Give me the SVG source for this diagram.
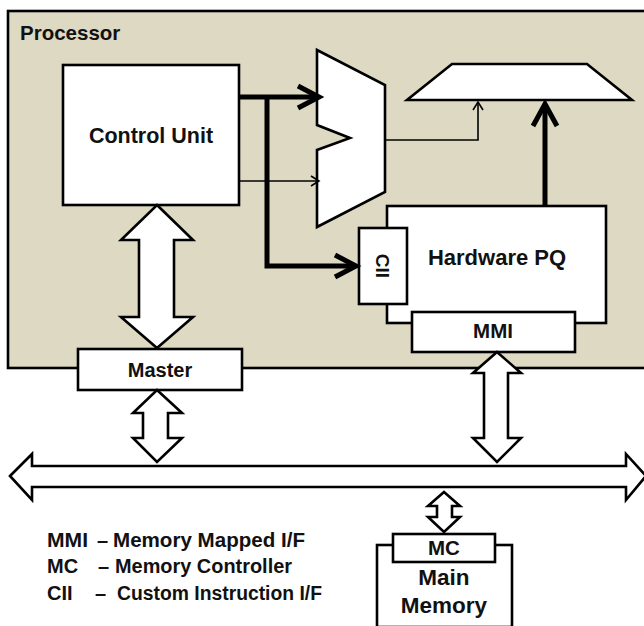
<svg xmlns="http://www.w3.org/2000/svg" width="644" height="626" viewBox="0 0 644 626">
<style>
.box{fill:#fff;stroke:#000;stroke-width:2.6}
.blk{fill:#fff;stroke:#000;stroke-width:2.6;stroke-linejoin:miter}
.thick{fill:none;stroke:#000;stroke-width:5}
.thin{fill:none;stroke:#000;stroke-width:1.6}
.t{font-family:"Liberation Sans",Arial,sans-serif;font-weight:bold;fill:#111}
</style>
<rect width="644" height="626" fill="#fff"/>
<g id="processor">
<rect x="8" y="11" width="642" height="357" fill="#DDD9C3" stroke="#000" stroke-width="2.6"/>
<text class="t" x="20" y="40" font-size="20.5">Processor</text>
</g>
<g id="control-unit">
<rect class="box" x="63" y="65" width="176" height="140"/>
<text class="t" x="151" y="143" font-size="21.5" text-anchor="middle">Control Unit</text>
</g>
<g id="mux">
<path class="box" d="M317,50 L385,85 L385,192 L317,227 L317,150 L350,138 L317,125 Z"/>
</g>
<g id="comparator">
<path class="box" d="M452,64 L587,64 L632,100 L407,100 Z"/>
</g>
<g id="hardware-pq">
<rect class="box" x="387" y="206" width="219" height="117"/>
<text class="t" x="497" y="265" font-size="22" text-anchor="middle">Hardware PQ</text>
</g>
<g id="cii">
<rect class="box" x="359" y="228" width="48" height="76"/>
<text class="t" font-size="19" text-anchor="middle" transform="translate(376,266) rotate(90)">CII</text>
</g>
<g id="mmi">
<rect class="box" x="412" y="312" width="163" height="40"/>
<text class="t" x="493" y="338" font-size="20.5" text-anchor="middle">MMI</text>
</g>
<g id="master">
<rect class="box" x="78" y="349" width="164" height="41"/>
<text class="t" x="160" y="377" font-size="20" text-anchor="middle">Master</text>
</g>
<g id="main-memory">
<rect class="box" x="377" y="545" width="135" height="82"/>
<text class="t" x="444" y="585" font-size="22.5" text-anchor="middle">Main</text>
<text class="t" x="444" y="613" font-size="22.5" text-anchor="middle">Memory</text>
</g>
<g id="mc">
<rect class="box" x="393" y="534" width="102" height="28"/>
<text class="t" x="444" y="555" font-size="20.5" text-anchor="middle">MC</text>
</g>
<g id="connectors">
<path class="thick" d="M239,97 L318,97"/>
<path class="thick" d="M298,86 L319,97 L298,108"/>
<path class="thick" d="M267,97 L267,266 L355,266"/>
<path class="thick" d="M335,255 L356,266 L335,277"/>
<path class="thin" d="M239,181 L318,181"/>
<path class="thin" d="M311,176 L319,181 L311,186"/>
<path class="thin" d="M385,140 L478,140 L478,103"/>
<path class="thin" d="M473,110 L478,102 L483,110"/>
<path class="thick" d="M545,206 L545,104"/>
<path class="thick" d="M533,126 L545,104 L557,126"/>
<path class="blk" d="M157,205 L193,240 L174,240 L174,317 L193,317 L157,348 L121,317 L139,317 L139,240 L121,240 Z"/>
<path class="blk" d="M10,476 L32,454 L32,466 L626,466 L626,454 L646,476 L626,500 L626,487 L32,487 L32,500 Z"/>
<path class="blk" d="M157,390 L182,413 L168,413 L168,438 L182,438 L157,462 L133,438 L143,438 L143,413 L133,413 Z"/>
<path class="blk" d="M497,352 L521,373 L508,373 L508,438 L521,438 L497,462 L473,438 L484,438 L484,373 L473,373 Z"/>
<path class="blk" d="M444,492 L460,506 L452,506 L452,517 L460,517 L444,532 L428,517 L437,517 L437,506 L428,506 Z"/>
</g>
<g id="legend">
<text class="t" x="47" y="547" font-size="20" textLength="41" lengthAdjust="spacingAndGlyphs">MMI</text>
<text class="t" x="97" y="547" font-size="20">–</text>
<text class="t" x="113" y="547" font-size="20" textLength="192" lengthAdjust="spacingAndGlyphs">Memory Mapped I/F</text>
<text class="t" x="47" y="573" font-size="20">MC</text>
<text class="t" x="98" y="573" font-size="20">–</text>
<text class="t" x="115" y="573" font-size="20" textLength="177" lengthAdjust="spacingAndGlyphs">Memory Controller</text>
<text class="t" x="47" y="600" font-size="20">CII</text>
<text class="t" x="95" y="600" font-size="20">–</text>
<text class="t" x="117" y="600" font-size="20" textLength="205" lengthAdjust="spacingAndGlyphs">Custom Instruction I/F</text>
</g>
</svg>
